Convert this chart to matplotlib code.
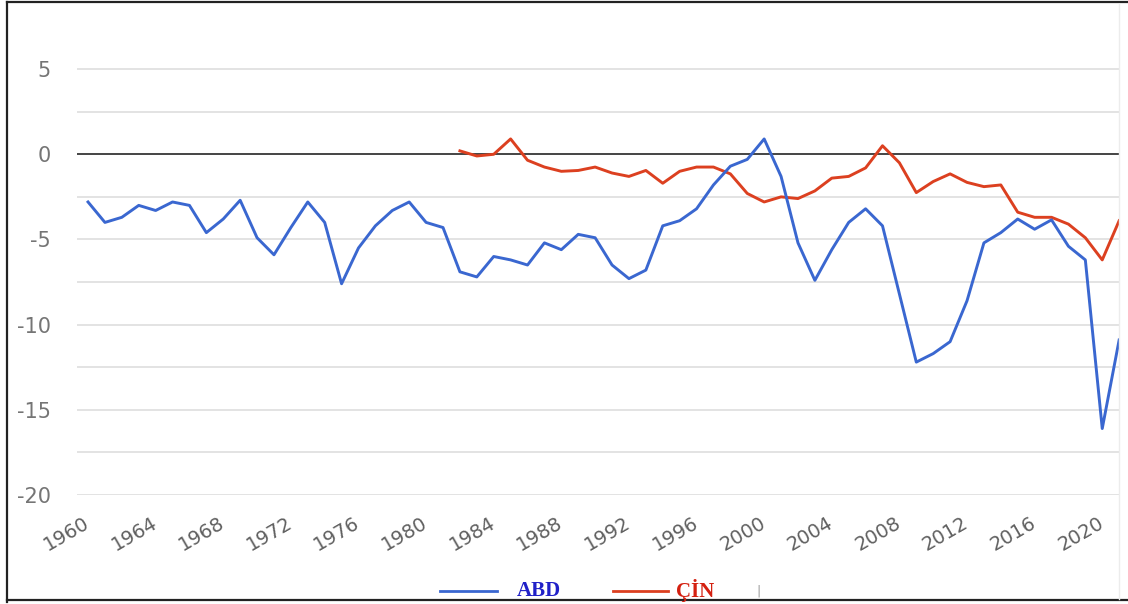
import numpy as np
import matplotlib
matplotlib.use('Agg')
from matplotlib import pyplot as plt
from matplotlib.lines import Line2D

# budget balance, % of GDP
abd_years = list(range(1960, 2022))
abd_values = [-2.8, -4.0, -3.7, -3.0, -3.3, -2.8, -3.0, -4.6, -3.8, -2.7,
              -4.9, -5.9, -4.3, -2.8, -4.0, -7.6, -5.5, -4.2, -3.3, -2.8,
              -4.0, -4.3, -6.9, -7.2, -6.0, -6.2, -6.5, -5.2, -5.6, -4.7,
              -4.9, -6.5, -7.3, -6.8, -4.2, -3.9, -3.2, -1.8, -0.7, -0.3,
              0.9, -1.3, -5.2, -7.4, -5.6, -4.0, -3.2, -4.2, -8.2, -12.2,
              -11.7, -11.0, -8.6, -5.2, -4.6, -3.8, -4.4, -3.85, -5.4, -6.2,
              -16.1, -10.9]
cin_years = list(range(1982, 2022))
cin_values = [0.2, -0.1, 0.0, 0.9, -0.35, -0.75, -1.0, -0.95, -0.75, -1.1,
              -1.3, -0.95, -1.7, -1.0, -0.75, -0.75, -1.15, -2.3, -2.8, -2.5,
              -2.6, -2.15, -1.4, -1.3, -0.8, 0.5, -0.5, -2.25, -1.6, -1.15,
              -1.65, -1.9, -1.8, -3.4, -3.7, -3.7, -4.1, -4.9, -6.2, -3.9]
x_ticks = list(range(1960, 2021, 4))
y_ticks = [5, 0, -5, -10, -15, -20]

blue = '#3a67d0'
red = '#dc4020'

fig = plt.figure(figsize=(11.28, 6.04), dpi=100)
ax = fig.add_axes([0.0683, 0.1805, 0.9246, 0.7897])

# light grid every 2.5, dark zero line
for g in np.arange(-20, 5.1, 2.5):
    if g == 0:
        continue
    ax.axhline(g, color='#e0e0e0', lw=1.3, zorder=0)
ax.axhline(0, color='#444444', lw=1.4, zorder=1)

ax.plot(abd_years, abd_values, color=blue, lw=2.1, zorder=3)
ax.plot(cin_years, cin_values, color=red, lw=2.1, zorder=2)

ax.set_xlim(1959.35, 2021.05)
ax.set_ylim(-20, 8)
for s in ax.spines.values():
    s.set_visible(False)

ax.set_yticks(y_ticks)
ax.set_yticklabels([str(v) for v in y_ticks])
ax.set_xticks(x_ticks)
ax.set_xticklabels([str(v) for v in x_ticks], rotation=30, ha='right',
                   va='center', rotation_mode='anchor')
ax.tick_params(axis='y', length=0, pad=19, labelsize=15, labelcolor='#757575')
ax.tick_params(axis='x', length=0, pad=19, labelsize=14, labelcolor='#606060')

# legend at the bottom: line sample + bold serif label, placed by hand
leg_y = 0.022
fig.add_artist(Line2D([0.390, 0.441], [leg_y, leg_y], color=blue, lw=2.0,
                      transform=fig.transFigure))
fig.text(0.4585, leg_y, 'ABD', color='#2020c8', family='Liberation Serif',
         weight='bold', fontsize=15, ha='left', va='center')
fig.add_artist(Line2D([0.543, 0.592], [leg_y, leg_y], color=red, lw=2.0,
                      transform=fig.transFigure))
fig.text(0.599, leg_y, 'ÇİN', color='#d42010', family='Liberation Serif',
         weight='bold', fontsize=15, ha='left', va='center')
fig.text(0.672, leg_y, '|', color='#999999', fontsize=9, ha='center', va='center')

# frame of the screenshot
fig.add_artist(Line2D([0.0062, 0.0062], [0.004, 0.996], color='#222222', lw=1.6,
                      transform=fig.transFigure))
fig.add_artist(Line2D([0.0062, 1.0], [0.996, 0.996], color='#222222', lw=1.6,
                      transform=fig.transFigure))
fig.add_artist(Line2D([0.0062, 1.0], [0.006, 0.006], color='#222222', lw=1.6,
                      transform=fig.transFigure))
fig.add_artist(Line2D([0.992, 0.992], [0.008, 0.994], color='#ececec', lw=1.0,
                      transform=fig.transFigure))

fig.savefig('out.png', dpi=100)
plt.close(fig)
